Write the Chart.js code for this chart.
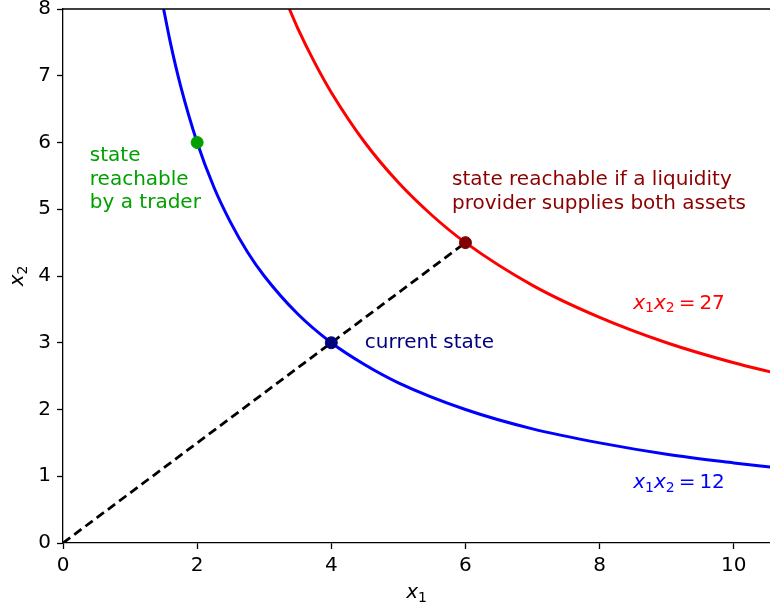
<!DOCTYPE html>
<html>
<head>
<meta charset="utf-8">
<script src="https://cdn.jsdelivr.net/npm/chart.js@4"></script>
<style>
  html, body { margin: 0; padding: 0; background: #fff; overflow: hidden; }
  #wrap { width: 770px; height: 609px; position: relative; }
</style>
</head>
<body>
<div id="wrap"><canvas id="chart"></canvas></div>
<script>
// curve x1*x2 = 12
const blueX = [1.5, 1.6, 1.75, 2, 2.25, 2.5, 2.75, 3, 3.5, 4, 4.5, 5, 6, 7, 8, 9, 10, 10.6];
const blueY = [8, 7.5, 6.86, 6, 5.33, 4.8, 4.36, 4, 3.43, 3, 2.67, 2.4, 2, 1.71, 1.5, 1.33, 1.2, 1.13];
// curve x1*x2 = 27
const redX = [3.375, 3.5, 3.75, 4, 4.5, 5, 5.5, 6, 7, 8, 9, 10, 10.6];
const redY = [8, 7.71, 7.2, 6.75, 6, 5.4, 4.91, 4.5, 3.86, 3.38, 3, 2.7, 2.55];
// dashed line through origin
const lineX = [0, 6];
const lineY = [0, 4.5];
// marked states
const traderPt = [2, 6];
const currentPt = [4, 3];
const providerPt = [6, 4.5];

const xTicks = [0, 2, 4, 6, 8, 10];
const yTicks = [0, 1, 2, 3, 4, 5, 6, 7, 8];

const toPts = (xs, ys) => xs.map((x, i) => ({ x: x, y: ys[i] }));

const FONT = "'DejaVu Sans', sans-serif";

// annotation texts at data positions
const notes = [
  { lines: ["state", "reachable", "by a trader"], x: 0.4, y: 5.8, color: "#00a000" },
  { lines: ["state reachable if a liquidity", "provider supplies both assets"], x: 5.8, y: 5.44, color: "#8b0000" },
  { lines: ["current state"], x: 4.5, y: 3.0, color: "#00007f" },
];
const mathNotes = [
  { value: "27", x: 8.5, y: 3.59, color: "#ff0000" },
  { value: "12", x: 8.5, y: 0.9, color: "#0000ff" },
];

// draws "x_a x_b = v" style text starting at px, centred on py
function mathText(ctx, parts, px, py) {
  parts.forEach(([t, f, dy]) => {
    ctx.font = f;
    ctx.fillText(t, px, py + dy);
    px += ctx.measureText(t).width;
  });
  return px;
}
function mathWidth(ctx, parts) {
  let w = 0;
  parts.forEach(([t, f]) => { ctx.font = f; w += ctx.measureText(t).width; });
  return w;
}
const IT = "italic 20px " + FONT;
const SUB = "14px " + FONT;

const annotations = {
  id: "annotations",
  afterDraw(chart) {
    const ctx = chart.ctx;
    const xs = chart.scales.x, ys = chart.scales.y;
    const area = chart.chartArea;
    ctx.save();
    // top spine
    ctx.strokeStyle = "#000";
    ctx.lineWidth = 1.3;
    ctx.beginPath();
    ctx.moveTo(area.left, area.top);
    ctx.lineTo(chart.width, area.top);
    ctx.stroke();

    ctx.textBaseline = "middle";
    ctx.textAlign = "left";
    notes.forEach((n) => {
      ctx.fillStyle = n.color;
      ctx.font = "20px " + FONT;
      const px = xs.getPixelForValue(n.x);
      const py = ys.getPixelForValue(n.y);
      n.lines.forEach((t, i) => ctx.fillText(t, px, py + i * 23.5));
    });
    mathNotes.forEach((m) => {
      const px = xs.getPixelForValue(m.x);
      const py = ys.getPixelForValue(m.y);
      ctx.fillStyle = m.color;
      mathText(ctx, [
        ["x", IT, 0], ["1", SUB, 5], ["x", IT, 0], ["2", SUB, 5],
        ["\u2009=\u2009" + m.value, "20px " + FONT, 0],
      ], px, py);
    });

    // axis titles
    ctx.fillStyle = "#000";
    const xt = [["x", IT, 0], ["1", SUB, 5]];
    mathText(ctx, xt, (area.left + area.right) / 2 - mathWidth(ctx, xt) / 2, 593);
    ctx.translate(18, (area.top + area.bottom) / 2);
    ctx.rotate(-Math.PI / 2);
    const yt = [["x", IT, 0], ["2", SUB, 5]];
    mathText(ctx, yt, -mathWidth(ctx, yt) / 2, 0);
    ctx.restore();
  },
};

const pointSet = (p, color) => ({
  data: [{ x: p[0], y: p[1] }],
  showLine: false,
  order: -1,
  pointRadius: 6,
  backgroundColor: color,
  borderColor: color,
  pointBackgroundColor: color,
  pointBorderColor: color,
  pointBorderWidth: 1,
});

new Chart(document.getElementById("chart"), {
  type: "scatter",
  data: {
    datasets: [
      {
        data: toPts(lineX, lineY),
        showLine: true,
        borderColor: "#000",
        borderWidth: 2.8,
        borderDash: [9, 5],
        pointRadius: 0,
      },
      {
        data: toPts(blueX, blueY),
        showLine: true,
        borderColor: "#0000ff",
        borderWidth: 3,
        cubicInterpolationMode: "monotone",
        pointRadius: 0,
      },
      {
        data: toPts(redX, redY),
        showLine: true,
        borderColor: "#ff0000",
        borderWidth: 3,
        cubicInterpolationMode: "monotone",
        pointRadius: 0,
      },
      pointSet(traderPt, "#00a000"),
      pointSet(currentPt, "#00007f"),
      pointSet(providerPt, "#7f0000"),
    ],
  },
  options: {
    responsive: true,
    maintainAspectRatio: false,
    animation: false,
    layout: { autoPadding: false, padding: { top: 9, right: 0, left: 0, bottom: 0 } },
    plugins: { legend: { display: false }, tooltip: { enabled: false } },
    scales: {
      x: {
        type: "linear",
        min: 0,
        max: 10.54,
        afterFit: (s) => { s.height = 66; s.paddingLeft = 0; s.paddingRight = 0; },
        afterBuildTicks: (s) => { s.ticks = xTicks.map((v) => ({ value: v })); },
        ticks: { color: "#000", font: { family: FONT, size: 20 }, padding: 5, maxRotation: 0 },
        grid: { drawOnChartArea: false, drawTicks: true, tickLength: 6, tickWidth: 1.3, color: "#000" },
        border: { display: true, color: "#000", width: 1.3 },
      },
      y: {
        type: "linear",
        min: 0,
        max: 8,
        afterFit: (s) => { s.width = 63; s.paddingTop = 0; s.paddingBottom = 0; },
        afterBuildTicks: (s) => { s.ticks = yTicks.map((v) => ({ value: v })); },
        ticks: { color: "#000", font: { family: FONT, size: 20 }, padding: 6 },
        grid: { drawOnChartArea: false, drawTicks: true, tickLength: 6, tickWidth: 1.3, color: "#000" },
        border: { display: true, color: "#000", width: 1.3 },
      },
    },
  },
  plugins: [annotations],
});
</script>
</body>
</html>
